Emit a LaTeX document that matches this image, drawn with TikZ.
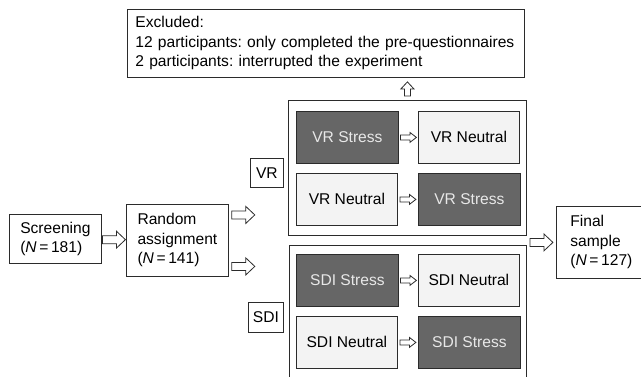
\documentclass[tikz,border=0pt]{standalone}
\usepackage{fontspec}
\setmainfont{Liberation Sans}
\usetikzlibrary{calc}
\frenchspacing
\definecolor{edge}{HTML}{2B2B2B}
\definecolor{darkfill}{HTML}{666666}
\definecolor{lightfill}{HTML}{F3F3F3}
\definecolor{darktext}{HTML}{E8E8E8}
\tikzset{
  arrowline/.style={draw=edge, fill=white, line width=0.8pt, line join=miter},
  pics/bigarrow/.style={code={
    \draw[arrowline] (-11.5,-4) -- (2.5,-4) -- (2.5,-8.5) -- (11.5,0) -- (2.5,8.5) -- (2.5,4) -- (-11.5,4) -- cycle;}},
  pics/midarrow/.style={code={
    \draw[arrowline] (-7,-3) -- (0,-3) -- (0,-6.5) -- (7,0) -- (0,6.5) -- (0,3) -- (-7,3) -- cycle;}},
  pics/smallarrow/.style={code={
    \draw[arrowline] (-8,-2.5) -- (1.5,-2.5) -- (1.5,-5) -- (8,0) -- (1.5,5) -- (1.5,2.5) -- (-8,2.5) -- cycle;}},
}
\newcommand{\nval}[1]{(\textit{N}\,=\,#1)}
\begin{document}
\begin{tikzpicture}[x=1pt,y=-1pt,
  every node/.style={font=\fontsize{15.6}{19.5}\selectfont},
  box/.style={draw=edge, line width=0.8pt, inner sep=0pt, anchor=north west, align=left},
  group/.style={draw=edge, line width=0.8pt, anchor=north west, inner sep=0pt},
  stress/.style={box, fill=darkfill, text=darktext, align=center, minimum width=102, minimum height=52},
  neutral/.style={box, fill=lightfill, align=center, minimum width=101, minimum height=52},
]
\clip (0,0) rectangle (641,376);

% exclusion note
\node[box, minimum height=68, text width=381, inner xsep=8pt] (excl) at (127,9)
  {Excluded:\\12 participants: only completed the pre-questionnaires\\2 participants: interrupted the experiment};

% left-hand flow
\node[box, minimum width=92, minimum height=49] (scr) at (9,214) {Screening\\\nval{181}};
\node[box, minimum width=102, minimum height=72] (rnd) at (126,204) {Random\\assignment\\\nval{141}};

% condition labels
\node[box, align=center, minimum width=33, minimum height=29] (vrlab) at (250,158) {VR};
\node[box, align=center, minimum width=35, minimum height=30] (sdilab) at (248,302) {SDI};

% VR group
\node[group, minimum width=238, minimum height=135] (vr) at (288,100) {};
\node[stress]  (vrA) at (296,111) {VR Stress};
\node[neutral] (vrB) at (418,111) {VR Neutral};
\node[neutral] (vrC) at (296,173) {VR Neutral};
\node[stress]  (vrD) at (418,173) {VR Stress};

% SDI group
\node[group, minimum width=237, minimum height=145] (sdi) at (289,245) {};
\node[stress]  (sdiA) at (296,254) {SDI Stress};
\node[neutral] (sdiB) at (418,254) {SDI Neutral};
\node[neutral] (sdiC) at (296,316) {SDI Neutral};
\node[stress]  (sdiD) at (418,316) {SDI Stress};

% final sample
\node[box, minimum width=90, minimum height=72] (fin) at (556,206) {Final\\sample\\\nval{127}};

% block arrows
\pic at ($(scr.east)!0.5!(rnd.west)$) {bigarrow};
\pic at ($(rnd.east)+(14.5,-25.5)$) {bigarrow};
\pic at ($(rnd.east)+(14.5,26)$) {bigarrow};
\pic at ($(vr.east |- fin.west)!0.5!(fin.west)$) {bigarrow};
\pic[rotate=90] at ($(vr.north)!0.5!(vr.north |- excl.south)$) {midarrow};
\pic at ($(vrA.east)!0.5!(vrB.west)$) {smallarrow};
\pic at ($(vrC.east)!0.5!(vrD.west)$) {smallarrow};
\pic at ($(sdiA.east)!0.5!(sdiB.west)$) {smallarrow};
\pic at ($(sdiC.east)!0.5!(sdiD.west)$) {smallarrow};
\end{tikzpicture}
\end{document}
